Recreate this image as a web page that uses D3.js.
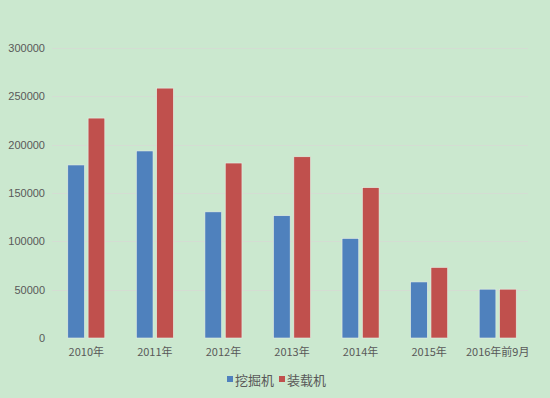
<!DOCTYPE html>
<html>
<head>
<meta charset="utf-8">
<script src="https://cdn.jsdelivr.net/npm/d3@7"></script>
<style>
  body { margin: 0; background: #cbe8cf; }
  svg { display: block; }
</style>
</head>
<body>
<div id="graphic"></div>
<script>
var categories = ["2010年", "2011年", "2012年", "2013年", "2014年", "2015年", "2016年前9月"];
var seriesNames = ["挖掘机", "装载机"];
var excavator = [179000, 193500, 130500, 126500, 103000, 58000, 50500];
var loader = [227500, 258500, 181000, 187500, 155500, 73000, 50500];
var yTicks = [0, 50000, 100000, 150000, 200000, 250000, 300000];
var colors = ["#4f81bd", "#c0504d"];

var graphic = {};

graphic.create = function() {
  var width = 550, height = 398;
  var margin = { top: 48, right: 18, bottom: 60, left: 52 };
  var svg = d3.select("#graphic").append("svg").attr("width", width).attr("height", height);

  svg.append("rect").attr("width", width).attr("height", height).attr("fill", "#cbe8cf");

  var x = d3.scaleBand().domain(categories).range([margin.left, width - margin.right]).paddingInner(0.46).paddingOuter(0.23);
  var x1 = d3.scaleBand().domain(seriesNames).range([0, x.bandwidth()]).paddingInner(0.18);
  var y = d3.scaleLinear().domain([0, 300000]).range([height - margin.bottom, margin.top]);

  // gridlines
  svg.append("g").selectAll("line").data(yTicks.slice(1)).enter().append("line")
    .attr("x1", margin.left).attr("x2", width - 22)
    .attr("y1", function(d) { return Math.round(y(d)) + 0.5; })
    .attr("y2", function(d) { return Math.round(y(d)) + 0.5; })
    .attr("stroke", "#d4ddd3").attr("stroke-width", 1);

  // y axis labels
  var yAxis = d3.axisLeft(y).tickValues(yTicks).tickSize(0).tickPadding(0)
    .tickFormat(function(d) { return String(d); });
  var ya = svg.append("g").attr("transform", "translate(" + (margin.left - 7) + ",0)").call(yAxis);
  ya.select(".domain").remove();
  ya.selectAll("text").attr("fill", "#595959").style("font-family", "Liberation Sans, Arial, sans-serif").style("font-size", "11px");

  // bars
  var rows = categories.map(function(c, i) { return { cat: c, vals: [excavator[i], loader[i]] }; });
  var groups = svg.append("g").selectAll("g").data(rows).enter().append("g")
    .attr("transform", function(d) { return "translate(" + x(d.cat) + ",0)"; });
  groups.selectAll("rect").data(function(d) {
    return d.vals.map(function(v, j) { return { name: seriesNames[j], v: v, j: j }; });
  }).enter().append("rect")
    .attr("x", function(d) { return x1(d.name); })
    .attr("width", x1.bandwidth())
    .attr("y", function(d) { return y(d.v); })
    .attr("height", function(d) { return y(0) - y(d.v); })
    .attr("fill", function(d) { return colors[d.j]; })
    .attr("stroke", "#e8efe6").attr("stroke-width", 0.6);

  // x axis labels
  var xAxis = d3.axisBottom(x).tickSize(0).tickPadding(10);
  var xa = svg.append("g").attr("transform", "translate(0," + y(0) + ")").call(xAxis);
  xa.select(".domain").remove();
  xa.selectAll("text").attr("fill", "#595959").style("font-family", "Noto Sans CJK SC, sans-serif").style("font-size", "11px");

  // legend
  var legend = svg.append("g").attr("transform", "translate(227,380)");
  var lx = [0, 52];
  seriesNames.forEach(function(n, i) {
    legend.append("rect").attr("x", lx[i]).attr("y", -4).attr("width", 6).attr("height", 6).attr("fill", colors[i]);
    legend.append("text").attr("x", lx[i] + 8).attr("y", 0).attr("dy", "0.35em")
      .attr("fill", "#595959").style("font-family", "Noto Sans CJK SC, sans-serif").style("font-size", "13px").text(n);
  });
};

graphic.create();
</script>
</body>
</html>
